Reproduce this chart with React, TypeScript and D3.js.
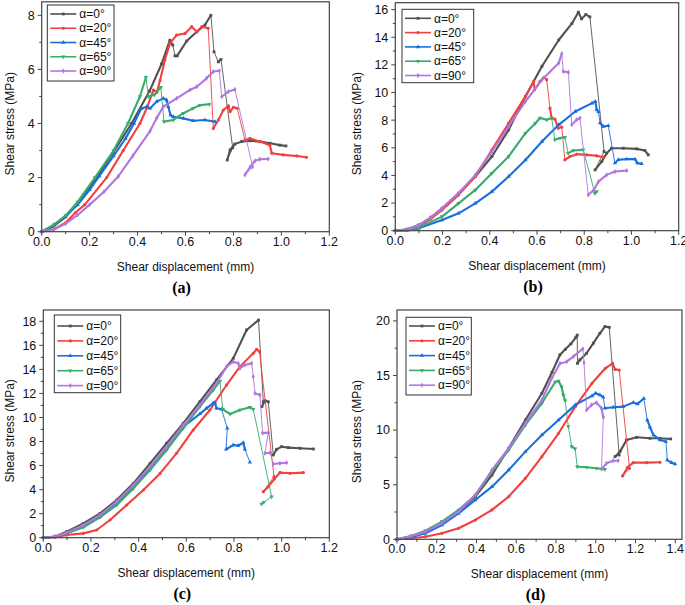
import React, { useRef, useEffect } from "react";
import * as d3 from "d3";

type Pt = [number, number];

const legendLabels = ["α=0°", "α=20°", "α=45°", "α=65°", "α=90°"];
const xTitle = "Shear displacement (mm)";
const yTitle = "Shear stress (MPa)";

const xTicks12 = [0, 0.2, 0.4, 0.6, 0.8, 1.0, 1.2];
const xTicks14 = [0, 0.2, 0.4, 0.6, 0.8, 1.0, 1.2, 1.4];
const yTicksA = [0, 2, 4, 6, 8];
const yTicksB = [0, 2, 4, 6, 8, 10, 12, 14, 16];
const yTicksC = [0, 2, 4, 6, 8, 10, 12, 14, 16, 18];
const yTicksD = [0, 5, 10, 15, 20];

// (a)
const a0: Pt[] = [[0,0],[0.05,0.2],[0.1,0.55],[0.146,1.0],[0.229,2.0],[0.3,2.95],[0.375,4.0],[0.45,5.2],[0.5,6.2],[0.535,7.08],[0.547,6.9],[0.556,6.5],[0.565,6.5],[0.605,7.05],[0.647,7.39],[0.681,7.64],[0.706,8.0],[0.719,6.65],[0.737,6.28],[0.748,6.37],[0.797,3.1],[0.774,2.65],[0.786,3.02],[0.806,3.24],[0.834,3.33],[0.869,3.36],[0.911,3.33],[0.952,3.27],[0.994,3.2],[1.019,3.17]];
const a20: Pt[] = [[0,0],[0.05,0.08],[0.1,0.33],[0.14,0.7],[0.18,1.0],[0.271,2.0],[0.34,3.0],[0.41,4.0],[0.44,4.6],[0.466,5.24],[0.48,5.15],[0.494,5.6],[0.514,6.35],[0.535,6.96],[0.563,7.27],[0.598,7.33],[0.626,7.58],[0.647,7.39],[0.668,7.58],[0.695,7.52],[0.716,3.82],[0.737,4.13],[0.758,4.5],[0.779,4.65],[0.786,4.44],[0.8,4.6],[0.816,4.56],[0.848,3.39],[0.869,3.45],[0.911,3.33],[0.952,3.2],[0.96,2.9],[1.008,2.84],[1.064,2.8],[1.105,2.75]];
const a45: Pt[] = [[0,0],[0.05,0.25],[0.1,0.58],[0.15,1.0],[0.2,1.55],[0.24,2.05],[0.3,2.8],[0.35,3.45],[0.385,4.0],[0.415,4.55],[0.438,4.62],[0.452,4.56],[0.48,4.81],[0.507,4.93],[0.521,4.87],[0.528,4.62],[0.538,4.31],[0.549,4.25],[0.591,4.19],[0.632,4.1],[0.681,4.13],[0.723,4.07]];
const a65: Pt[] = [[0,0],[0.05,0.25],[0.1,0.6],[0.15,1.1],[0.222,2.0],[0.3,3.0],[0.36,4.0],[0.41,5.0],[0.435,5.71],[0.445,5.0],[0.47,5.06],[0.497,5.34],[0.51,4.07],[0.549,4.13],[0.591,4.38],[0.632,4.56],[0.66,4.68],[0.699,4.71]];
const a90: Pt[] = [[0,0],[0.05,0.08],[0.1,0.3],[0.15,0.62],[0.2,1.0],[0.26,1.48],[0.32,2.05],[0.38,2.8],[0.452,3.72],[0.48,4.2],[0.507,4.62],[0.563,4.93],[0.619,5.24],[0.647,5.36],[0.688,5.67],[0.716,5.92],[0.741,5.95],[0.751,4.99],[0.779,5.18],[0.806,5.26],[0.88,2.4],[0.848,2.1],[0.87,2.4],[0.89,2.62],[0.91,2.68],[0.945,2.69]];

// (b)
const b0: Pt[] = [[0,0],[0.05,0.1],[0.099,0.41],[0.15,0.95],[0.198,1.62],[0.268,2.71],[0.339,3.92],[0.409,5.37],[0.48,7.3],[0.551,9.72],[0.621,11.9],[0.692,13.8],[0.748,15.0],[0.775,15.81],[0.789,15.33],[0.807,15.64],[0.824,15.47],[0.884,5.73],[0.846,4.4],[0.874,5.0],[0.895,5.61],[0.916,5.97],[0.965,5.97],[1.022,5.92],[1.057,5.8],[1.071,5.49]];
const b20: Pt[] = [[0,0],[0.05,0.05],[0.099,0.29],[0.15,0.85],[0.198,1.5],[0.268,2.59],[0.339,3.92],[0.409,5.85],[0.48,7.78],[0.551,9.72],[0.586,10.8],[0.59,10.2],[0.613,10.8],[0.63,11.1],[0.641,10.93],[0.655,8.87],[0.662,8.15],[0.676,8.08],[0.69,7.42],[0.705,7.5],[0.718,5.13],[0.74,5.37],[0.768,5.54],[0.81,5.49],[0.853,5.42],[0.881,5.32]];
const b45: Pt[] = [[0,0],[0.05,0.04],[0.099,0.17],[0.198,0.77],[0.268,1.26],[0.339,1.98],[0.409,2.83],[0.48,3.92],[0.551,5.12],[0.621,6.45],[0.692,7.66],[0.762,8.63],[0.833,9.23],[0.847,9.35],[0.853,8.75],[0.86,8.6],[0.867,7.79],[0.881,7.54],[0.902,7.59],[0.93,4.89],[0.944,5.13],[0.98,5.18],[1.015,5.18],[1.025,4.89],[1.043,4.84]];
const b65: Pt[] = [[0,0],[0.05,0.05],[0.099,0.24],[0.198,1.02],[0.268,1.98],[0.339,2.95],[0.409,4.16],[0.48,5.37],[0.551,7.06],[0.593,7.78],[0.613,8.15],[0.641,8.03],[0.662,8.15],[0.676,6.58],[0.697,6.7],[0.718,6.77],[0.732,5.61],[0.754,5.8],[0.796,5.85],[0.845,2.71],[0.853,2.83]];
const b90: Pt[] = [[0,0],[0.05,0.1],[0.099,0.39],[0.15,0.95],[0.198,1.62],[0.268,2.71],[0.339,4.04],[0.409,5.73],[0.48,7.54],[0.551,9.35],[0.621,10.92],[0.692,12.13],[0.705,12.81],[0.711,11.53],[0.733,11.46],[0.747,7.67],[0.768,8.03],[0.782,8.15],[0.817,2.59],[0.84,2.95],[0.86,3.55],[0.895,4.04],[0.93,4.28],[0.98,4.35]];

// (c)
const c0: Pt[] = [[0,0],[0.05,0.1],[0.098,0.5],[0.168,1.19],[0.238,2.02],[0.308,3.13],[0.378,4.52],[0.448,6.18],[0.517,7.85],[0.587,9.51],[0.657,11.31],[0.727,13.12],[0.797,14.92],[0.853,17.28],[0.903,18.1],[0.923,11.3],[0.917,10.9],[0.93,11.4],[0.944,11.3],[0.965,6.88],[0.979,7.35],[1.0,7.57],[1.028,7.49],[1.077,7.44],[1.133,7.38]];
const c20: Pt[] = [[0,0],[0.05,0.05],[0.098,0.22],[0.168,0.36],[0.224,0.64],[0.28,1.47],[0.35,2.72],[0.42,3.97],[0.49,5.35],[0.559,7.02],[0.629,8.96],[0.699,10.62],[0.769,12.7],[0.825,14.23],[0.881,15.34],[0.895,15.67],[0.907,15.48],[0.968,5.08],[0.923,3.83],[0.944,4.24],[0.97,4.9],[0.993,5.41],[1.035,5.36],[1.091,5.41]];
const c45: Pt[] = [[0,0],[0.05,0.08],[0.098,0.36],[0.168,0.92],[0.238,1.75],[0.308,2.86],[0.378,4.24],[0.448,5.77],[0.517,7.43],[0.587,9.23],[0.657,10.3],[0.685,10.76],[0.713,11.2],[0.72,11.23],[0.727,10.76],[0.748,10.68],[0.772,9.1],[0.767,7.35],[0.797,7.71],[0.818,7.66],[0.839,7.9],[0.846,7.35],[0.867,6.27]];
const c65: Pt[] = [[0,0],[0.05,0.08],[0.098,0.36],[0.168,0.86],[0.238,1.69],[0.308,2.72],[0.378,4.1],[0.448,5.63],[0.517,7.29],[0.587,9.1],[0.657,10.9],[0.713,12.28],[0.741,13.02],[0.753,10.68],[0.784,10.29],[0.825,10.62],[0.867,10.85],[0.881,10.68],[0.958,3.41],[0.925,2.95],[0.915,2.8]];
const c90: Pt[] = [[0,0],[0.05,0.1],[0.098,0.42],[0.168,1.05],[0.238,1.89],[0.308,3.0],[0.378,4.38],[0.448,5.91],[0.517,7.57],[0.587,9.37],[0.657,11.04],[0.727,12.84],[0.769,14.23],[0.797,14.64],[0.818,14.51],[0.825,14.09],[0.846,14.37],[0.874,14.51],[0.881,13.4],[0.888,12.01],[0.909,11.87],[0.92,8.7],[0.944,8.74],[0.93,7.02],[0.951,7.07],[0.965,6.13],[0.993,6.19],[1.021,6.24]];

// (d)
const d0: Pt[] = [[0,0],[0.07,0.25],[0.143,0.7],[0.226,1.47],[0.31,2.53],[0.394,3.91],[0.478,5.89],[0.562,8.34],[0.646,10.93],[0.729,13.37],[0.78,15.3],[0.82,16.9],[0.847,17.4],[0.875,17.9],[0.9,18.5],[0.907,18.7],[0.908,16.12],[0.92,16.43],[0.954,17.04],[0.988,17.96],[1.021,18.87],[1.046,19.48],[1.068,19.42],[1.118,7.72],[1.097,7.57],[1.122,8.03],[1.155,9.1],[1.206,9.34],[1.273,9.25],[1.323,9.25],[1.377,9.19]];
const d20: Pt[] = [[0,0],[0.07,0.1],[0.143,0.24],[0.226,0.55],[0.31,1.01],[0.394,1.77],[0.478,2.69],[0.562,3.91],[0.646,5.59],[0.729,7.57],[0.813,9.71],[0.897,12.15],[0.981,14.29],[1.048,15.66],[1.085,16.12],[1.097,15.57],[1.118,15.5],[1.17,6.5],[1.135,5.8],[1.16,6.6],[1.189,7.02],[1.256,7.02],[1.323,7.05]];
const d45: Pt[] = [[0,0],[0.07,0.2],[0.143,0.55],[0.226,1.31],[0.31,2.38],[0.394,3.6],[0.478,4.82],[0.562,6.35],[0.646,8.03],[0.729,9.56],[0.813,10.93],[0.897,12.31],[0.981,13.13],[1.0,13.38],[1.021,13.22],[1.038,13.01],[1.046,12.0],[1.088,12.09],[1.138,12.15],[1.189,12.52],[1.21,12.4],[1.242,12.9],[1.259,10.93],[1.273,10.26],[1.29,9.56],[1.323,9.1],[1.353,8.95],[1.36,7.26],[1.382,7.02],[1.399,6.9]];
const d65: Pt[] = [[0,0],[0.07,0.3],[0.143,0.79],[0.226,1.62],[0.31,2.69],[0.394,4.06],[0.478,6.2],[0.562,8.18],[0.646,10.47],[0.729,12.46],[0.796,14.4],[0.813,14.5],[0.828,13.98],[0.837,13.22],[0.846,12.7],[0.862,10.32],[0.879,8.49],[0.896,8.3],[0.907,6.65],[0.954,6.6],[1.004,6.51],[1.046,6.42]];
const d90: Pt[] = [[0,0],[0.07,0.28],[0.143,0.7],[0.226,1.47],[0.31,2.53],[0.394,4.06],[0.478,6.35],[0.562,8.34],[0.646,10.63],[0.729,12.76],[0.78,14.8],[0.82,16.1],[0.854,16.27],[0.887,16.73],[0.935,17.45],[0.941,16.18],[0.954,11.85],[0.979,12.31],[1.004,12.52],[1.029,12.0],[1.038,11.18],[1.029,6.42],[1.054,6.96],[1.088,7.2],[1.113,7.2]];

const colors = ["#515151", "#F14040", "#1A6FDF", "#37AD6B", "#B177DE"];

const panels = [
  { label: "(a)", series: [a0, a20, a45, a65, a90], xMax: 1.2, yMax: 8.5, xTicks: xTicks12, yTicks: yTicksA, yMinor: 1,
    box: { left: 41.7, right: 329.3, top: 1.8, bottom: 231.7 }, yTitleX: 10,
    legend: { x: 47.3, y: 5, w: 66.7, h: 76, row0: 14, step: 14.25 } },
  { label: "(b)", series: [b0, b20, b45, b65, b90], xMax: 1.2, yMax: 16.5, xTicks: xTicks12, yTicks: yTicksB, yMinor: 1,
    box: { left: 395.3, right: 678.7, top: 2.7, bottom: 230.7 }, yTitleX: 357,
    legend: { x: 402, y: 9.3, w: 71.7, h: 73.4, row0: 18.3, step: 14.3 } },
  { label: "(c)", series: [c0, c20, c45, c65, c90], xMax: 1.2, yMax: 18.94, xTicks: xTicks12, yTicks: yTicksC, yMinor: 1,
    box: { left: 43.3, right: 329.3, top: 310, bottom: 537.7 }, yTitleX: 10,
    legend: { x: 54.3, y: 315, w: 66.4, h: 77.7, row0: 326, step: 14.9 } },
  { label: "(d)", series: [d0, d20, d45, d65, d90], xMax: 1.434, yMax: 21.0, xTicks: xTicks14, yTicks: yTicksD, yMinor: 2.5,
    box: { left: 397, right: 682, top: 310, bottom: 539.3 }, yTitleX: 357,
    legend: { x: 406, y: 317.3, w: 65.3, h: 77.7, row0: 326, step: 14.8 } },
];

const symbolFor = (i: number) => {
  const types = [d3.symbolSquare, d3.symbolCircle, d3.symbolTriangle, d3.symbolTriangle, d3.symbolDiamond];
  return d3.symbol().type(types[i]).size(8)();
};

const App = () => {
  const svgRef = useRef<SVGSVGElement>(null);

  useEffect(() => {
    const svg = d3.select(svgRef.current);
    svg.selectAll("*").remove();
    svg.append("rect").attr("width", 685).attr("height", 605).attr("fill", "#fff");

    const font = "Arial, 'Liberation Sans', sans-serif";

    panels.forEach((p) => {
      const { left, right, top, bottom } = p.box;
      const x = d3.scaleLinear().domain([0, p.xMax]).range([left, right]);
      const y = d3.scaleLinear().domain([0, p.yMax]).range([bottom, top]);
      const g = svg.append("g");

      // curves, drop segments drawn thin
      p.series.forEach((data, si) => {
        const pts = data.map((d) => [x(d[0]), y(d[1])]);
        const cg = g.append("g").attr("fill", "none").attr("stroke", colors[si]);
        for (let k = 1; k < pts.length; k++) {
          const [x1, y1] = pts[k - 1];
          const [x2, y2] = pts[k];
          const thin = y2 - y1 > 10 || x2 < x1;
          cg.append("line")
            .attr("x1", x1).attr("y1", y1).attr("x2", x2).attr("y2", y2)
            .attr("stroke-width", thin ? 0.9 : 2.1)
            .attr("stroke-linecap", "round");
        }
        const path = symbolFor(si);
        g.append("g")
          .selectAll("path")
          .data(pts)
          .join("path")
          .attr("d", path)
          .attr("fill", colors[si])
          .attr("transform", (d) => `translate(${d[0]},${d[1]})${si === 3 ? " rotate(180)" : ""}`);
      });

      // frame
      g.append("rect")
        .attr("x", left).attr("y", top)
        .attr("width", right - left).attr("height", bottom - top)
        .attr("fill", "none").attr("stroke", "#444").attr("stroke-width", 1.2);

      // x ticks
      const xMinor = d3.range(0.1, p.xMax + 1e-6, 0.2);
      p.xTicks.forEach((t) => {
        g.append("line").attr("x1", x(t)).attr("x2", x(t)).attr("y1", bottom).attr("y2", bottom + 4)
          .attr("stroke", "#444");
        g.append("text").attr("x", x(t)).attr("y", bottom + 14)
          .attr("text-anchor", "middle").attr("font-family", font).attr("font-size", 12.5)
          .attr("fill", "#111").text(t.toFixed(1));
      });
      xMinor.forEach((t) => {
        g.append("line").attr("x1", x(t)).attr("x2", x(t)).attr("y1", bottom).attr("y2", bottom + 2.5)
          .attr("stroke", "#444");
      });

      // y ticks
      const yMinor = d3.range(p.yMinor, p.yMax, p.yMinor * 2);
      p.yTicks.forEach((t) => {
        g.append("line").attr("x1", left - 4).attr("x2", left).attr("y1", y(t)).attr("y2", y(t))
          .attr("stroke", "#444");
        g.append("text").attr("x", left - 7).attr("y", y(t)).attr("dy", "0.35em")
          .attr("text-anchor", "end").attr("font-family", font).attr("font-size", 12.5)
          .attr("fill", "#111").text(String(t));
      });
      yMinor.forEach((t) => {
        g.append("line").attr("x1", left - 2.5).attr("x2", left).attr("y1", y(t)).attr("y2", y(t))
          .attr("stroke", "#444");
      });

      // titles
      g.append("text").attr("x", (left + right) / 2).attr("y", bottom + 39)
        .attr("text-anchor", "middle").attr("font-family", font).attr("font-size", 12)
        .attr("fill", "#111").text(xTitle);
      g.append("text")
        .attr("transform", `translate(${p.yTitleX},${(top + bottom) / 2 + 7}) rotate(-90)`)
        .attr("text-anchor", "middle").attr("dy", "0.35em").attr("font-family", font).attr("font-size", 12)
        .attr("fill", "#111").text(yTitle);
      g.append("text").attr("x", (left + right) / 2 - 4).attr("y", bottom + 61)
        .attr("text-anchor", "middle").attr("font-family", "'Liberation Serif', 'Times New Roman', serif")
        .attr("font-weight", "bold").attr("font-size", 16).attr("fill", "#000").text(p.label);

      // legend
      const L = p.legend;
      g.append("rect").attr("x", L.x).attr("y", L.y).attr("width", L.w).attr("height", L.h)
        .attr("fill", "#fff").attr("stroke", "#333").attr("stroke-width", 1);
      legendLabels.forEach((lab, i) => {
        const ry = L.row0 + i * L.step;
        g.append("line").attr("x1", L.x + 3).attr("x2", L.x + 29).attr("y1", ry).attr("y2", ry)
          .attr("stroke", colors[i]).attr("stroke-width", 1.6);
        g.append("path").attr("d", symbolFor(i)).attr("fill", colors[i])
          .attr("transform", `translate(${L.x + 16},${ry})${i === 3 ? " rotate(180)" : ""}`);
        g.append("text").attr("x", L.x + 32).attr("y", ry).attr("dy", "0.35em")
          .attr("font-family", font).attr("font-size", 12).attr("fill", "#111").text(lab);
      });
    });
  }, []);

  return (
    <svg
      ref={svgRef}
      width={685}
      height={605}
      style={{ position: "absolute", left: 0, top: 0, display: "block" }}
    />
  );
};

export default App;
